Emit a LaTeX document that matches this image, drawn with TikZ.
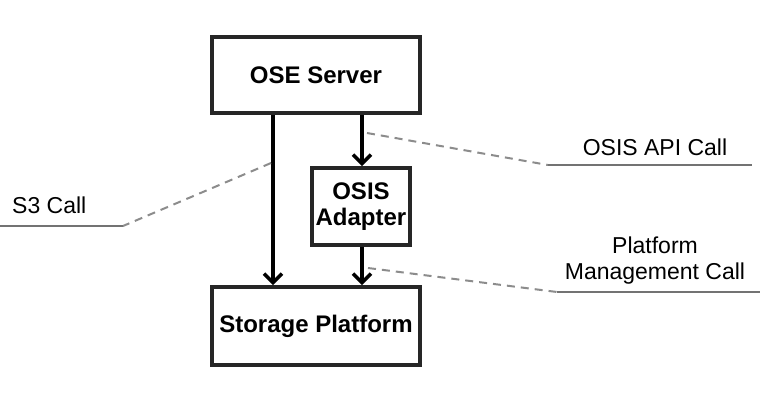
\documentclass[tikz,border=0pt]{standalone}
\usepackage{fontspec}
\setmainfont{Liberation Sans}
\usetikzlibrary{arrows.meta}
\begin{document}
\begin{tikzpicture}[x=1pt,y=-1pt,
  box/.style={draw=black!85, line width=3.6pt, fill=white, inner sep=0pt, font=\fontsize{24}{27.5}\selectfont\bfseries, align=center},
  arr/.style={line width=3.5pt, draw=black, -{Straight Barb[length=9pt,width=18pt,line width=3.6pt]}},
  lead/.style={draw=black!45, line width=2pt, dash pattern=on 8pt off 6pt},
  uline/.style={draw=black!55, line width=2pt},
  lbl/.style={font=\fontsize{23}{27}\selectfont, align=center, inner sep=0pt}]
\useasboundingbox (0,0) rectangle (766,410);
\fill[white] (0,0) rectangle (766,410);
% boxes
\node[box, minimum width=208pt, minimum height=76pt] (ose) at (316,75) {OSE Server};
\node[box, minimum width=98pt, minimum height=77pt] (osis) at (361,206.5) {OSIS\\[-1pt]Adapter};
\node[box, minimum width=208pt, minimum height=78pt] (stor) at (316,326) {Storage Platform};
% arrow columns
\coordinate (xl) at (273,0);
\coordinate (xr) at (362,0);
\draw[arr] (ose.south -| xl) -- (stor.north -| xl);
\draw[arr] (ose.south -| xr) -- (osis.north -| xr);
\draw[arr] (osis.south -| xr) -- (stor.north -| xr);
% S3 call leader
\coordinate (s3a) at (271,163);
\coordinate (s3b) at (123,226);
\coordinate (s3c) at (0,226);
\draw[lead] (s3a) -- (s3b);
\draw[uline] (s3b) -- (s3c);
\node[lbl, anchor=west] (s3) at (12,205) {S3 Call};
% OSIS API call leader
\coordinate (apia) at (367,133);
\coordinate (apib) at (548,165);
\coordinate (apic) at (752,165);
\draw[lead] (apia) -- (apib);
\draw[uline] (apib) -- (apic);
\node[lbl] (api) at (655,147) {OSIS API Call};
% Platform management call leader
\coordinate (pma) at (368,268);
\coordinate (pmb) at (557,292);
\coordinate (pmc) at (760,292);
\draw[lead] (pma) -- (pmb);
\draw[uline] (pmb) -- (pmc);
\node[lbl] (pm) at (655,261) {Platform\\[-1pt]Management Call};
\end{tikzpicture}
\end{document}
